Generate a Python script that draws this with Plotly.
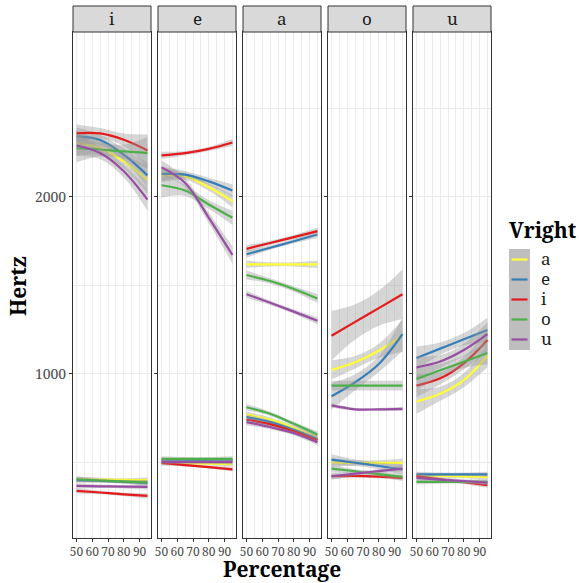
import plotly.graph_objects as go
from plotly.subplots import make_subplots

# Smoothed formant trajectories (Hz) by target vowel (facet) and right-hand vowel (Vright)
x_pct = [50, 65, 80, 95]
facets = ["i", "e", "a", "o", "u"]
vright = ["a", "e", "i", "o", "u"]
vright_colors = ["#FFFF33", "#377EB8", "#E41A1C", "#4DAF4A", "#984EA3"]

# F2 fits
f2_i = {"a": [2304, 2276, 2201, 2098], "e": [2342, 2322, 2239, 2122], "i": [2360, 2359, 2323, 2263],
        "o": [2276, 2268, 2257, 2248], "u": [2291, 2248, 2145, 1985]}
f2_e = {"a": [2122, 2116, 2055, 1976], "e": [2130, 2126, 2088, 2036], "i": [2235, 2248, 2272, 2308],
        "o": [2066, 2036, 1957, 1882], "u": [2167, 2079, 1882, 1672]}
f2_a = {"a": [1619, 1619, 1619, 1619], "e": [1676, 1713, 1750, 1788], "i": [1707, 1740, 1773, 1807],
        "o": [1559, 1525, 1480, 1426], "u": [1450, 1402, 1352, 1300]}
f2_o = {"a": [1023, 1066, 1131, 1216], "e": [874, 953, 1056, 1225], "i": [1216, 1294, 1372, 1450],
        "o": [934, 934, 934, 934], "u": [822, 800, 800, 803]}
f2_u = {"a": [844, 888, 965, 1103], "e": [1090, 1143, 1196, 1248], "i": [934, 975, 1060, 1192],
        "o": [972, 1021, 1069, 1118], "u": [1037, 1070, 1135, 1225]}

# F1 fits
f1_i = {"a": [405, 403, 401, 400], "e": [400, 395, 390, 385], "i": [339, 330, 320, 311],
        "o": [405, 398, 392, 387], "u": [367, 365, 363, 362]}
f1_e = {"a": [497, 495, 493, 490], "e": [510, 510, 510, 510], "i": [497, 485, 473, 461],
        "o": [520, 520, 520, 520], "u": [503, 502, 502, 502]}
f1_a = {"a": [770, 742, 695, 640], "e": [756, 728, 684, 632], "i": [741, 715, 675, 625],
        "o": [812, 775, 718, 658], "u": [728, 700, 665, 614]}
f1_o = {"a": [499, 498, 497, 497], "e": [516, 498, 480, 461], "i": [422, 424, 420, 412],
        "o": [465, 450, 434, 418], "u": [422, 437, 451, 465]}
f1_u = {"a": [427, 424, 421, 418], "e": [433, 433, 433, 433], "i": [422, 405, 388, 371],
        "o": [390, 390, 390, 390], "u": [412, 403, 395, 386]}

# Confidence half-widths (Hz) of the F2 fits
se2_i = {"a": [70, 40, 40, 80], "e": [50, 30, 35, 70], "i": [50, 30, 35, 90],
         "o": [80, 40, 40, 90], "u": [60, 35, 35, 65]}
se2_e = {"a": [40, 20, 20, 35], "e": [40, 20, 20, 35], "i": [20, 12, 12, 20],
         "o": [70, 30, 25, 40], "u": [40, 25, 30, 50]}
se2_a = {"a": [20, 12, 12, 20], "e": [20, 12, 12, 20], "i": [20, 12, 12, 20],
         "o": [25, 15, 15, 25], "u": [20, 12, 12, 20]}
se2_o = {"a": [55, 35, 40, 90], "e": [75, 45, 45, 95], "i": [140, 100, 100, 140],
         "o": [28, 28, 28, 28], "u": [12, 8, 8, 12]}
se2_u = {"a": [70, 40, 40, 65], "e": [65, 35, 35, 70], "i": [65, 35, 35, 65],
         "o": [65, 35, 35, 65], "u": [65, 35, 35, 65]}

# Confidence half-widths (Hz) of the F1 fits
se1_i = {"a": [15, 10, 10, 15], "e": [15, 10, 10, 15], "i": [15, 10, 10, 15],
         "o": [15, 10, 10, 15], "u": [15, 10, 10, 15]}
se1_e = {"a": [15, 10, 10, 15], "e": [15, 10, 10, 15], "i": [12, 8, 8, 12],
         "o": [15, 10, 10, 15], "u": [15, 10, 10, 15]}
se1_a = {"a": [18, 12, 12, 18], "e": [18, 12, 12, 18], "i": [18, 12, 12, 18],
         "o": [18, 12, 12, 18], "u": [18, 12, 12, 18]}
se1_o = {"a": [25, 15, 15, 25], "e": [30, 18, 18, 30], "i": [15, 10, 10, 15],
         "o": [20, 12, 12, 20], "u": [20, 12, 12, 20]}
se1_u = {"a": [15, 10, 10, 15], "e": [15, 10, 10, 15], "i": [15, 10, 10, 15],
         "o": [15, 10, 10, 15], "u": [15, 10, 10, 15]}

y_ticks = [1000, 2000]
y_minor = [500, 1500, 2500]
x_ticks = [50, 60, 70, 80, 90]
x_minor = [55, 65, 75, 85, 95]

F2 = [f2_i, f2_e, f2_a, f2_o, f2_u]
F1 = [f1_i, f1_e, f1_a, f1_o, f1_u]
SE2 = [se2_i, se2_e, se2_a, se2_o, se2_u]
SE1 = [se1_i, se1_e, se1_a, se1_o, se1_u]

FONT = "Noto Serif, DejaVu Serif, serif"
BAND = "rgba(153,153,153,0.4)"

W, H = 579, 583
ML, MR, MT, MB = 73, 88, 32, 45
PW, PH = W - ML - MR, H - MT - MB
PANEL_W, PANEL_STEP = 78, 85

fig = make_subplots(rows=1, cols=5, shared_yaxes=True)


def add_smooth(col, xs, ys, se, color):
    lo = [y - s for y, s in zip(ys, se)]
    hi = [y + s for y, s in zip(ys, se)]
    fig.add_trace(go.Scatter(x=xs, y=lo, mode="lines", line=dict(width=0, shape="spline"),
                             hoverinfo="skip", showlegend=False), row=1, col=col)
    fig.add_trace(go.Scatter(x=xs, y=hi, mode="lines", line=dict(width=0, shape="spline"),
                             fill="tonexty", fillcolor=BAND,
                             hoverinfo="skip", showlegend=False), row=1, col=col)
    fig.add_trace(go.Scatter(x=xs, y=ys, mode="lines", line=dict(color=color, width=2.2, shape="spline"),
                             hoverinfo="skip", showlegend=False), row=1, col=col)


for k in range(5):
    for v, c in zip(vright, vright_colors):
        add_smooth(k + 1, x_pct, F2[k][v], SE2[k][v], c)
        add_smooth(k + 1, x_pct, F1[k][v], SE1[k][v], c)

axis_common = dict(showline=True, mirror=True, linecolor="#333333", linewidth=1,
                   ticks="outside", ticklen=3, tickcolor="#333333", tickwidth=1,
                   showgrid=True, gridcolor="#EBEBEB", gridwidth=1, zeroline=False)

shapes = []
annotations = []
for k in range(5):
    left_px = k * PANEL_STEP
    dom = [left_px / PW, min(1.0, (left_px + PANEL_W) / PW)]
    xa = "xaxis" if k == 0 else f"xaxis{k + 1}"
    ya = "yaxis" if k == 0 else f"yaxis{k + 1}"
    fig.layout[xa].update(domain=dom, range=[47.75, 97.25], tickvals=x_ticks,
                          ticktext=[str(t) for t in x_ticks], tickangle=0,
                          tickfont=dict(family=FONT, size=12, color="#4D4D4D"),
                          minor=dict(tickvals=x_minor, showgrid=True, gridcolor="#EBEBEB",
                                     gridwidth=0.6, ticks=""),
                          **axis_common)
    fig.layout[ya].update(range=[73, 2932], tickvals=y_ticks,
                          tickfont=dict(family=FONT, size=14, color="#4D4D4D"),
                          minor=dict(tickvals=y_minor, showgrid=True, gridcolor="#EBEBEB",
                                     gridwidth=0.6, ticks=""),
                          showticklabels=(k == 0), **axis_common)
    # facet strip
    shapes.append(dict(type="rect", xref="paper", yref="paper", x0=dom[0], x1=dom[1],
                       y0=1.0, y1=1 + 26 / PH, fillcolor="#D9D9D9",
                       line=dict(color="#333333", width=1), layer="above"))
    annotations.append(dict(xref="paper", yref="paper", x=(dom[0] + dom[1]) / 2, y=1 + 13 / PH,
                            text=facets[k], showarrow=False, xanchor="center", yanchor="middle",
                            font=dict(family=FONT, size=17, color="#1A1A1A")))


def px_x(px):
    return (px - ML) / PW


def px_y(py):
    return (H - MB - py) / PH


# axis titles
annotations.append(dict(xref="paper", yref="paper", x=px_x(18), y=px_y(286), text="<b>Hertz</b>",
                        textangle=-90, showarrow=False, xanchor="center", yanchor="middle",
                        font=dict(family=FONT, size=21, color="#000000")))
annotations.append(dict(xref="paper", yref="paper", x=px_x(282), y=px_y(569), text="<b>Percentage</b>",
                        showarrow=False, xanchor="center", yanchor="middle",
                        font=dict(family=FONT, size=21, color="#000000")))

# legend
annotations.append(dict(xref="paper", yref="paper", x=px_x(507), y=px_y(230), text="<b>Vright</b>",
                        showarrow=False, xanchor="left", yanchor="middle",
                        font=dict(family=FONT, size=21, color="#000000")))
shapes.append(dict(type="rect", xref="paper", yref="paper", x0=px_x(509), x1=px_x(530),
                   y0=px_y(350), y1=px_y(249), fillcolor="#BEBEBE", line=dict(width=0)))
for i, (v, c) in enumerate(zip(vright, vright_colors)):
    yy = 259.5 + 20 * i
    shapes.append(dict(type="line", xref="paper", yref="paper", x0=px_x(511.5), x1=px_x(527.5),
                       y0=px_y(yy), y1=px_y(yy), line=dict(color=c, width=2.2)))
    annotations.append(dict(xref="paper", yref="paper", x=px_x(539), y=px_y(yy - 1), text=v,
                            showarrow=False, xanchor="left", yanchor="middle",
                            font=dict(family=FONT, size=17, color="#1A1A1A")))

fig.update_layout(width=W, height=H, margin=dict(l=ML, r=MR, t=MT, b=MB),
                  plot_bgcolor="white", paper_bgcolor="white", showlegend=False,
                  shapes=shapes, annotations=annotations)

fig.write_html("out.html")
